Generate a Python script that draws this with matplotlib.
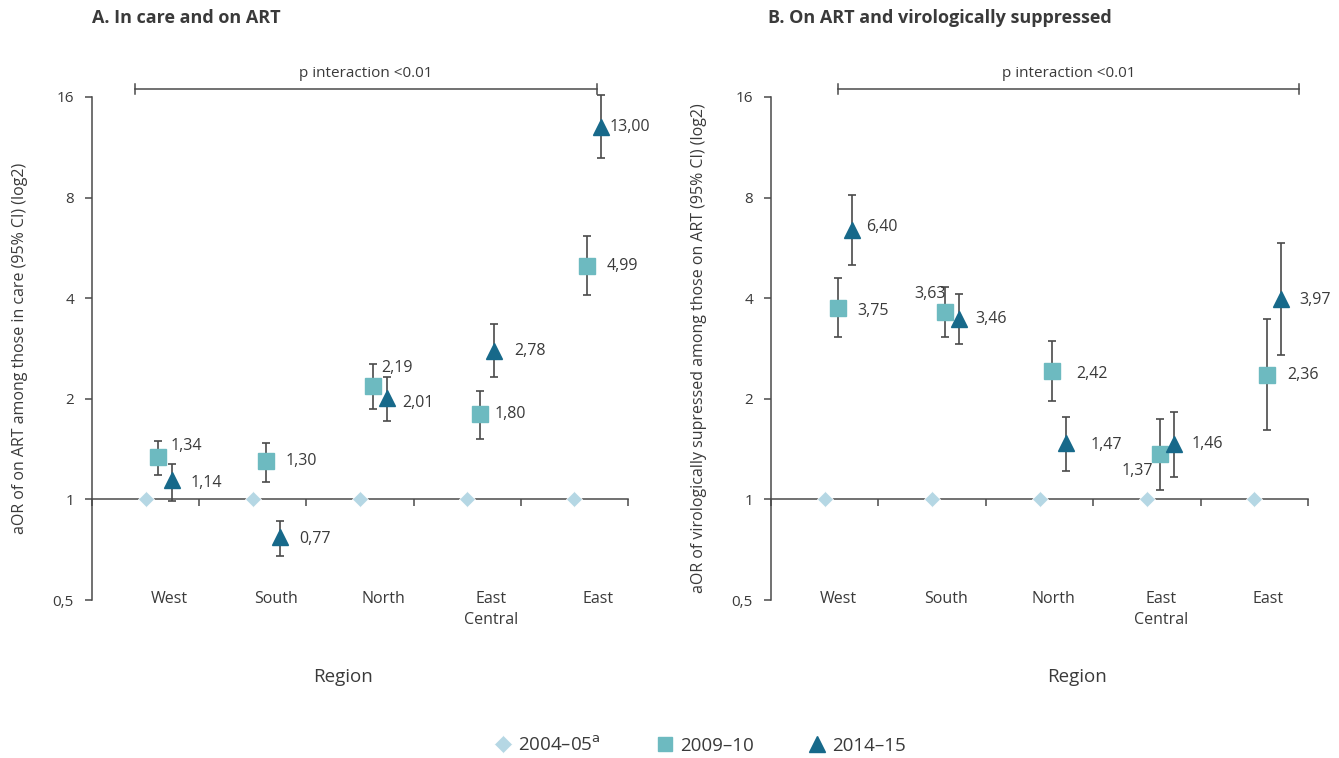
#!/usr/bin/env python3
import matplotlib
matplotlib.use('Agg')
import matplotlib.pyplot as plt
from matplotlib.lines import Line2D
import numpy as np

# Data
regions = ['West', 'South', 'North', 'East\nCentral', 'East']
ref_2004 = [1, 1, 1, 1, 1]

a_2009 = [1.34, 1.30, 2.19, 1.80, 4.99]
a_2009_lo = [1.18, 1.13, 1.86, 1.52, 4.08]
a_2009_hi = [1.50, 1.47, 2.55, 2.11, 6.14]
a_2014 = [1.14, 0.77, 2.01, 2.78, 13.00]
a_2014_lo = [0.99, 0.675, 1.72, 2.32, 10.5]
a_2014_hi = [1.28, 0.86, 2.33, 3.34, 16.2]

b_2009 = [3.75, 3.63, 2.42, 1.37, 2.36]
b_2009_lo = [3.06, 3.06, 1.97, 1.07, 1.61]
b_2009_hi = [4.60, 4.32, 2.97, 1.74, 3.46]
b_2014 = [6.40, 3.46, 1.47, 1.46, 3.97]
b_2014_lo = [5.04, 2.91, 1.22, 1.17, 2.71]
b_2014_hi = [8.16, 4.11, 1.76, 1.82, 5.85]

yticks = [0.5, 1, 2, 4, 8, 16]
ytick_labels = ['0,5', '1', '2', '4', '8', '16']

c_2004 = '#b5d7e4'
c_2009 = '#6dbac0'
c_2014 = '#17698a'
c_line = '#4a4a4a'
c_text = '#3a3a3a'

plt.rcParams['font.family'] = ['Open Sans', 'DejaVu Sans']

W, H = 1339, 758


def px(v):
    # pixels to points at dpi 100
    return v * 72 / 100


def fmt(v):
    return ('%.2f' % v).replace('.', ',')


def panel(ax, v09, lo09, hi09, v14, lo14, hi14, label_offsets, ylabel,
          bracket, name_shift):
    x = np.arange(len(regions)) + 0.5
    x09 = x + 0.12
    x14 = x + 0.25

    ax.set_yscale('log', base=2)
    ax.set_ylim(0.5, 16)
    ax.set_xlim(0, 5)
    ax.set_yticks(yticks)
    ax.set_yticklabels(ytick_labels)
    ax.minorticks_off()
    ax.set_xticks(np.arange(0, 6))
    ax.set_xticklabels([])

    for s in ['top', 'right']:
        ax.spines[s].set_visible(False)
    ax.spines['bottom'].set_position(('data', 1))
    for s in ['left', 'bottom']:
        ax.spines[s].set_color(c_line)
        ax.spines[s].set_linewidth(1.1)
    ax.tick_params(axis='both', direction='out', length=5, width=1.1,
                   color=c_line, labelcolor=c_text, labelsize=11)
    ax.tick_params(axis='y', pad=8)

    ax.plot(x, ref_2004, 'D', color=c_2004, ms=8, mec='white', mew=0.5,
            zorder=4, clip_on=False)

    v09 = np.array(v09)
    v14 = np.array(v14)
    ax.errorbar(x09, v09, yerr=[v09 - np.array(lo09), np.array(hi09) - v09],
                fmt='s', color=c_2009, ms=11, ecolor=c_line, elinewidth=1.2,
                capsize=3, capthick=1.2, zorder=3, clip_on=False)
    ax.errorbar(x14, v14, yerr=[v14 - np.array(lo14), np.array(hi14) - v14],
                fmt='^', color=c_2014, ms=11, ecolor=c_line, elinewidth=1.2,
                capsize=3, capthick=1.2, zorder=3, clip_on=False)

    pts = list(zip(x09, v09)) + list(zip(x14, v14))
    for (xx, vv), (dx, dy, ha) in zip(pts, label_offsets):
        ax.annotate(fmt(vv), (xx, vv), xytext=(px(dx), px(dy)),
                    textcoords='offset points', ha=ha, va='center',
                    fontsize=11.5, color=c_text)

    trans = ax.get_xaxis_transform()
    for xx, r in zip(x, regions):
        ax.text(xx + name_shift, 0.018, r, transform=trans, ha='center',
                va='top', fontsize=11.5, color=c_text, linespacing=1.4)

    ax.set_ylabel(ylabel, fontsize=11.5, color=c_text)

    # p interaction bracket
    b0, b1 = bracket
    yb = 16.9
    ax.plot([b0, b1], [yb, yb], color=c_line, lw=1.1, clip_on=False)
    for bx in (b0, b1):
        ax.plot([bx, bx], [yb * 0.965, yb * 1.035], color=c_line, lw=1.1,
                clip_on=False)
    ax.text((b0 + b1) / 2, yb * 1.055, 'p interaction <0.01', ha='center',
            va='bottom', fontsize=11, color=c_text)


def draw():
    fig = plt.figure(figsize=(W / 100, H / 100), dpi=100, facecolor='white')
    axA = fig.add_axes([92 / W, 1 - 600 / H, (628 - 92) / W, (600 - 97) / H])
    axB = fig.add_axes([771 / W, 1 - 600 / H, (1308 - 771) / W, (600 - 97) / H])

    offs_a = [(12, 11, 'left'), (20, 0, 'left'), (8, 18, 'left'),
              (14, 0, 'left'), (19, 0, 'left'),
              (18, -3, 'left'), (20, -2, 'left'), (15, -5, 'left'),
              (20, 0, 'left'), (8, 0, 'left')]
    offs_b = [(20, -3, 'left'), (1, 18, 'right'), (24, -3, 'left'),
              (-7, -17, 'right'), (20, 0, 'left'),
              (15, 3, 'left'), (16, 0, 'left'), (24, -2, 'left'),
              (18, 0, 'left'), (18, -1, 'left')]

    panel(axA, a_2009, a_2009_lo, a_2009_hi, a_2014, a_2014_lo, a_2014_hi,
          offs_a, 'aOR of on ART among those in care (95% CI) (log2)',
          (0.40, 4.71), 0.22)
    panel(axB, b_2009, b_2009_lo, b_2009_hi, b_2014, b_2014_lo, b_2014_hi,
          offs_b,
          'aOR of virologically supressed among those on ART (95% CI) (log2)',
          (0.62, 4.92), 0.13)
    axA.yaxis.set_label_coords(-0.12, 0.5)
    axB.yaxis.set_label_coords(-0.12, 0.5)

    fig.text(92 / W, 1 - 18 / H, 'A. In care and on ART', fontsize=13,
             fontweight='bold', color=c_text, va='center')
    fig.text(768 / W, 1 - 18 / H, 'B. On ART and virologically suppressed',
             fontsize=13, fontweight='bold', color=c_text, va='center')
    fig.text(343 / W, 1 - 677 / H, 'Region', fontsize=13.5, color=c_text,
             ha='center', va='center')
    fig.text(1077 / W, 1 - 677 / H, 'Region', fontsize=13.5, color=c_text,
             ha='center', va='center')

    handles = [
        Line2D([], [], ls='none', marker='D', color=c_2004, ms=9, mec='white', mew=0.5),
        Line2D([], [], ls='none', marker='s', color=c_2009, ms=10),
        Line2D([], [], ls='none', marker='^', color=c_2014, ms=11),
    ]
    fig.legend(handles, ['2004–05$^{\\mathrm{a}}$', '2009–10', '2014–15'],
               loc='center', bbox_to_anchor=(697 / W, 1 - 745 / H), ncol=3,
               frameon=False, fontsize=13.5, handletextpad=0.0,
               handlelength=1.6, columnspacing=2.6, labelcolor=c_text)

    plt.savefig('out.png', facecolor=fig.get_facecolor(), dpi=100)


if __name__ == '__main__':
    draw()
